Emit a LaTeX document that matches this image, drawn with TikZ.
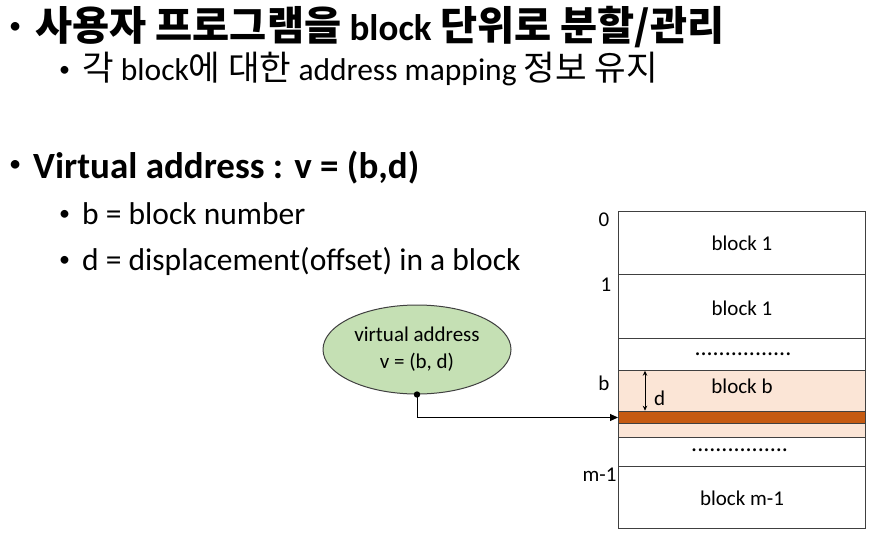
\documentclass[tikz,border=0pt]{standalone}
\usepackage{fontspec}
\setmainfont{Carlito}
\newfontfamily\kr{Noto Sans CJK KR}[Scale=1.09]
\usetikzlibrary{shapes.geometric,arrows.meta}
\definecolor{peach}{HTML}{FBE5D6}
\definecolor{bandc}{HTML}{C55A11}
\definecolor{vagreen}{HTML}{C5E0B4}
\definecolor{edge}{HTML}{404040}
\newcommand\bul[2]{\raisebox{#2}{\scalebox{#1}{•}}}

\begin{document}
\begin{tikzpicture}[x=1pt,y=-1pt,
    line/.style={anchor=base west,inner sep=0pt},
    big/.style={font=\fontsize{37}{44}\selectfont\bfseries},
    small/.style={font=\fontsize{31.5}{38}\selectfont},
    blk/.style={anchor=base,inner sep=0pt,font=\fontsize{21}{25}\selectfont},
    dots/.style={anchor=base,inner sep=0pt,font=\fontsize{24}{28}\selectfont},
    mem/.style={draw=edge,line width=1pt}]
    \useasboundingbox (0,0) rectangle (876,539);
    % bullet text
    \node[line,big] (t1) at (10,40.7) {\makebox[25pt][l]{\bul{0.55}{8pt}}{\kr 사용자 프로그램을} block {\kr 단위로 분할/관리}};
    \node[line,small] (t2) at (59,80) {\makebox[23pt][l]{\bul{0.7}{4pt}}{\kr 각} block{\kr 에 대한} address mapping {\kr 정보 유지}};
    \node[line,big] (t3) at (10,178.6) {\makebox[23pt][l]{\bul{0.55}{8pt}}Virtual address : v = (b,d)};
    \node[line,small] (t4) at (59,224.3) {\makebox[23pt][l]{\bul{0.7}{4pt}}b = block number};
    \node[line,small] (t5) at (59,270.5) {\makebox[23pt][l]{\bul{0.7}{4pt}}d = displacement(offset) in a block};
    % memory
    \fill[peach] (618,370.7) rectangle (865,437.7);
    \draw[mem] (618,211) rectangle (865,528.3);
    \draw[mem] (618,274) -- (865,274);
    \draw[mem] (618,338) -- (865,338);
    \draw[mem] (618,370.7) -- (865,370.7);
    \draw[mem] (618,437.7) -- (865,437.7);
    \draw[mem] (618,466) -- (865,466);
    \node[mem,fill=bandc,minimum width=247,minimum height=12.6,inner sep=0pt,anchor=north west] (band) at (618,410.7) {};
    \node[blk] (b1) at (742,250) {block 1};
    \node[blk] (b2) at (742,315) {block 1};
    \node[dots] (dt1) at (743,355.7) {................};
    \node[blk] (bb) at (742,393.3) {block b};
    \node[dots] (dt2) at (739.7,451.7) {................};
    \node[blk] (bm) at (742,505) {block m-1};
    \node[blk] (a0) at (604,226) {0};
    \node[blk] (a1) at (606,291.7) {1};
    \node[blk] (ab) at (604,390.7) {b};
    \node[blk] (am) at (599.5,481.7) {m-1};
    % offset d
    \coordinate (dtop) at (645,370.7);
    \coordinate (dbot) at (645,410.7);
    \draw[line width=0.9pt,{Stealth[length=5pt,width=4.5pt]}-{Stealth[length=5pt,width=4.5pt]}] (dtop) -- (dbot);
    \node[blk,anchor=base west] (d) at (654,405.7) {d};
    % virtual address
    \node[ellipse,draw=edge,line width=1pt,fill=vagreen,minimum width=188,minimum height=89,
      align=center,font=\fontsize{21}{26.7}\selectfont] (va) at (417,349.5) {virtual address\\v = (b, d)};
    \fill (va.south) circle (3.2pt);
    \draw[line width=1pt,-{Triangle[length=8pt,width=7pt]}] (va.south) |- (band.west);
\end{tikzpicture}
\end{document}
